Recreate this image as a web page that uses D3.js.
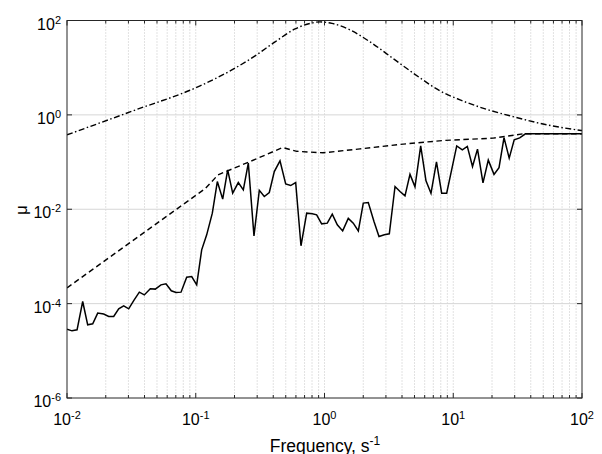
<!DOCTYPE html>
<html><head><meta charset="utf-8">
<script src="https://cdn.jsdelivr.net/npm/d3@7"></script>
<style>
body{margin:0;background:#fff}
svg{display:block}
text{font-family:"Liberation Sans",Arial,Helvetica,sans-serif;fill:#000}
</style>
</head><body>
<svg id="c" width="602" height="454"></svg>
<script>
// ---- data ----
const xTickValues = [1e-2, 1e-1, 1e0, 1e1, 1e2];
const xTickExp = ["-2", "-1", "0", "1", "2"];
const yTickValues = [1e-6, 1e-4, 1e-2, 1e0, 1e2];
const yTickExp = ["-6", "-4", "-2", "0", "2"];

const freqSolid = [0.0100,0.01094,0.01197,0.01324,0.01448,0.01584,0.01732,0.01928,0.02108,0.02305,
  0.02521,0.02757,0.03015,0.03297,0.03645,0.03985,0.04435,0.04849,0.05370,0.05872,
  0.06457,0.07027,0.07685,0.08505,0.09301,0.1017,0.1112,0.1216,0.1345,0.1471,
  0.1619,0.1770,0.1936,0.2141,0.2341,0.2560,0.2833,0.3116,0.3407,0.3726,
  0.4074,0.4512,0.4995,0.5461,0.5972,0.6566,0.7271,0.8040,0.8691,0.9505,
  1.051,1.149,1.257,1.384,1.530,1.673,1.831,2.001,2.188,2.423,
  2.650,2.916,3.187,3.530,3.858,4.219,4.613,5.045,5.586,6.141,
  6.715,7.409,8.130,8.891,10.64,11.76,12.86,14.11,15.43,17.02,
  18.71,20.73,22.67,24.79,27.20,29.74,32.81,36.39,100];
const muSolid = [2.88e-5,2.65e-5,2.79e-5,1.11e-4,3.56e-5,3.73e-5,6.30e-5,6.00e-5,5.33e-5,5.33e-5,
  7.76e-5,8.98e-5,7.76e-5,1.16e-4,1.75e-4,1.53e-4,2.06e-4,2.03e-4,2.50e-4,2.63e-4,
  1.87e-4,1.72e-4,1.75e-4,3.64e-4,3.75e-4,2.50e-4,1.38e-3,2.87e-3,8.26e-3,3.86e-2,
  1.64e-2,6.84e-2,2.19e-2,3.68e-2,2.58e-2,9.48e-2,2.73e-3,2.51e-2,1.86e-2,2.26e-2,
  6.29e-2,0.106,3.45e-2,3.18e-2,3.68e-2,1.68e-3,8.26e-3,8.00e-3,7.61e-3,4.91e-3,
  5.08e-3,7.87e-3,4.67e-3,3.48e-3,6.41e-3,5.08e-3,3.48e-3,1.35e-2,1.39e-2,5.48e-3,
  2.64e-3,2.87e-3,3.01e-3,3.03e-2,2.37e-2,1.92e-2,5.49e-2,2.98e-2,0.220,4.00e-2,
  2.17e-2,0.101,2.19e-2,2.19e-2,0.220,0.181,0.215,8.03e-2,0.188,3.62e-2,
  0.110,5.49e-2,7.64e-2,0.329,0.121,0.295,0.326,0.396,0.396];

const freqDashed = [0.0100,0.118,0.149,0.264,0.473,0.608,0.973,1.888,3.858,8.32,20.4,34.8,100];
const muDashed   = [2.16e-4,2.71e-2,5.36e-2,0.1025,0.203,0.169,0.157,0.190,0.237,0.286,0.321,0.396,0.396];

const freqDashDot = [0.0100,0.0326,0.108,0.185,0.289,0.413,0.591,0.772,0.922,1.143,1.58,2.26,3.53,5.52,7.89,11.3,17.7,29.1,53.5,100];
const muDashDot   = [0.377,1.22,4.11,8.55,17.8,35.2,66.4,86.8,93.4,86.8,63.2,35.2,14.6,6.08,3.22,2.08,1.34,0.920,0.614,0.465];

// ---- chart ----
const L = 67, R = 582, T = 20.5, B = 398;
const svg = d3.select("#c");
const x = d3.scaleLog().domain([1e-2, 1e2]).range([L, R]);
const y = d3.scaleLog().domain([1e-6, 1e2]).range([B, T]);

const minorX = [];
for (let e = -2; e < 2; e++) for (let k = 2; k <= 9; k++) minorX.push(k * Math.pow(10, e));

const grid = svg.append("g");
grid.selectAll("line.vx").data(minorX.concat(xTickValues.slice(1, -1))).enter().append("line")
  .attr("x1", d => x(d)).attr("x2", d => x(d)).attr("y1", T).attr("y2", B)
  .attr("stroke", "#c4c4c4").attr("stroke-width", 1).attr("stroke-dasharray", "1,2");
grid.selectAll("line.hy").data(yTickValues.slice(1, -1)).enter().append("line")
  .attr("x1", L).attr("x2", R).attr("y1", d => y(d)).attr("y2", d => y(d))
  .attr("stroke", "#d6d6d6").attr("stroke-width", 1);

svg.append("clipPath").attr("id", "clip").append("rect")
  .attr("x", L).attr("y", T).attr("width", R - L).attr("height", B - T);

const plot = svg.append("g").attr("clip-path", "url(#clip)");

plot.append("path").datum(d3.zip(freqDashDot, muDashDot))
  .attr("d", d3.line().x(d => x(d[0])).y(d => y(d[1])).curve(d3.curveMonotoneX)).attr("fill", "none")
  .attr("stroke", "#000").attr("stroke-width", 1.4).attr("stroke-dasharray", "6,2.5,1.5,2.5");
plot.append("path").datum(d3.zip(freqDashed, muDashed))
  .attr("d", d3.line().x(d => x(d[0])).y(d => y(d[1]))).attr("fill", "none")
  .attr("stroke", "#000").attr("stroke-width", 1.4).attr("stroke-dasharray", "5.5,3.5");
plot.append("path").datum(d3.zip(freqSolid, muSolid))
  .attr("d", d3.line().x(d => x(d[0])).y(d => y(d[1]))).attr("fill", "none")
  .attr("stroke", "#000").attr("stroke-width", 1.5).attr("stroke-linejoin", "miter");

const ax = svg.append("g").attr("stroke", "#262626").attr("stroke-width", 1).attr("fill", "none");
ax.append("rect").attr("x", L).attr("y", T).attr("width", R - L).attr("height", B - T);
const tickLen = 5, minorLen = 3;
xTickValues.forEach(v => {
  ax.append("line").attr("x1", x(v)).attr("x2", x(v)).attr("y1", B).attr("y2", B - tickLen);
  ax.append("line").attr("x1", x(v)).attr("x2", x(v)).attr("y1", T).attr("y2", T + tickLen);
});
minorX.forEach(v => {
  ax.append("line").attr("x1", x(v)).attr("x2", x(v)).attr("y1", B).attr("y2", B - minorLen);
  ax.append("line").attr("x1", x(v)).attr("x2", x(v)).attr("y1", T).attr("y2", T + minorLen);
});
yTickValues.forEach(v => {
  ax.append("line").attr("x1", L).attr("x2", L + tickLen).attr("y1", y(v)).attr("y2", y(v));
  ax.append("line").attr("x1", R).attr("x2", R - tickLen).attr("y1", y(v)).attr("y2", y(v));
});

const xl = svg.append("g");
xTickValues.forEach((v, i) => {
  const t = xl.append("text").attr("x", x(v)).attr("y", 425).attr("text-anchor", "middle").attr("font-size", 16);
  t.append("tspan").text("10");
  t.append("tspan").attr("dy", -6).attr("font-size", 11).text(xTickExp[i]);
});
yTickValues.forEach((v, i) => {
  const t = xl.append("text").attr("x", 61).attr("y", y(v) + 9).attr("text-anchor", "end").attr("font-size", 16);
  t.append("tspan").text("10");
  t.append("tspan").attr("dy", -6).attr("font-size", 11).text(yTickExp[i]);
});

const xlab = svg.append("text").attr("x", 325).attr("y", 451.5).attr("text-anchor", "middle").attr("font-size", 17.5);
xlab.append("tspan").text("Frequency, s");
xlab.append("tspan").attr("dy", -7).attr("font-size", 12).text("-1");
svg.append("text").attr("transform", "translate(27,210) rotate(-90)").attr("text-anchor", "middle")
  .attr("font-size", 17).text("μ");
</script>
</body></html>
